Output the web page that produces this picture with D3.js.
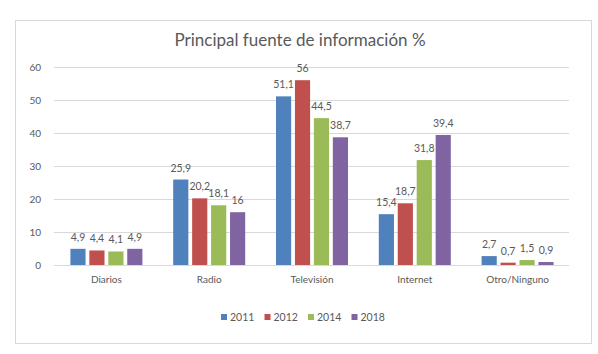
<!DOCTYPE html>
<html>
<head>
<meta charset="utf-8">
<script src="https://cdn.jsdelivr.net/npm/d3@7"></script>
<style>
  body { margin: 0; background: #fff; }
  svg text { font-family: Lato, "Open Sans", sans-serif; fill: #595959; }
</style>
</head>
<body>
<div id="chart"></div>
<script>
// data
var categories = ["Diarios", "Radio", "Televisión", "Internet", "Otro/Ninguno"];
var years = ["2011", "2012", "2014", "2018"];
var values2011 = [4.9, 25.9, 51.1, 15.4, 2.7];
var values2012 = [4.4, 20.2, 56, 18.7, 0.7];
var values2014 = [4.1, 18.1, 44.5, 31.8, 1.5];
var values2018 = [4.9, 16, 38.7, 39.4, 0.9];
var yTicks = [0, 10, 20, 30, 40, 50, 60];
var colors = ["#4F81BD", "#C0504D", "#9BBB59", "#8064A2"];

var series = [values2011, values2012, values2014, values2018];
var width = 598, height = 354;
var groupW = 72;

var svg = d3.select("#chart").append("svg")
    .attr("width", width)
    .attr("height", height);

// chart frame
svg.append("rect")
    .attr("x", 15.5).attr("y", 20.5)
    .attr("width", 576).attr("height", 323)
    .attr("fill", "#fff")
    .attr("stroke", "#d9d9d9");

svg.append("text")
    .attr("x", 300).attr("y", 46)
    .attr("text-anchor", "middle")
    .style("font-size", "17px")
    .text("Principal fuente de información %");

var x = d3.scaleBand().domain(categories).range([55, 569]);
var xInner = d3.scaleBand().domain(years).range([0, groupW]).paddingInner(0.2);
var y = d3.scaleLinear().domain([0, 60]).range([265, 67]);

// grid lines
svg.append("g")
    .selectAll("line")
    .data(yTicks)
    .enter().append("line")
    .attr("x1", 54).attr("x2", 569)
    .attr("y1", function(d) { return Math.round(y(d)) + 0.5; })
    .attr("y2", function(d) { return Math.round(y(d)) + 0.5; })
    .attr("stroke", "#d9d9d9");

// y axis labels
var yAxis = svg.append("g")
    .attr("transform", "translate(54,0)")
    .call(d3.axisLeft(y).tickValues(yTicks).tickSize(0).tickPadding(13));
yAxis.select(".domain").remove();
yAxis.selectAll("text").style("font-size", "10px").attr("fill", "#595959");

// x axis labels
var xAxis = svg.append("g")
    .attr("transform", "translate(0,265)")
    .call(d3.axisBottom(x).tickSize(0).tickPadding(11));
xAxis.select(".domain").remove();
xAxis.selectAll("text").style("font-size", "10px").attr("fill", "#595959");

// bars
var groups = svg.append("g").selectAll("g")
    .data(series)
    .enter().append("g")
    .attr("fill", function(d, i) { return colors[i]; });

groups.each(function(vals, si) {
  var g = d3.select(this);
  var off = function(ci) { return x(categories[ci]) + (x.bandwidth() - groupW) / 2 + xInner(years[si]); };
  g.selectAll("rect")
    .data(vals)
    .enter().append("rect")
    .attr("x", function(d, ci) { return off(ci); })
    .attr("y", function(d) { return y(d); })
    .attr("width", xInner.bandwidth())
    .attr("height", function(d) { return y(0) - y(d); });
  g.selectAll("text")
    .data(vals)
    .enter().append("text")
    .attr("x", function(d, ci) { return off(ci) + xInner.bandwidth() / 2; })
    .attr("y", function(d) { return y(d) - 8; })
    .attr("text-anchor", "middle")
    .style("font-size", "10.5px")
    .text(function(d) { return String(d).replace(".", ","); });
});

// legend
var legend = svg.append("g").attr("transform", "translate(221,317)");
var item = legend.selectAll("g")
    .data(years)
    .enter().append("g")
    .attr("transform", function(d, i) { return "translate(" + (i * 43.5) + ",0)"; });
item.append("rect")
    .attr("x", 0).attr("y", -3)
    .attr("width", 6).attr("height", 6)
    .attr("fill", function(d, i) { return colors[i]; });
item.append("text")
    .attr("x", 9).attr("y", 4)
    .style("font-size", "10.5px")
    .text(function(d) { return d; });
</script>
</body>
</html>
